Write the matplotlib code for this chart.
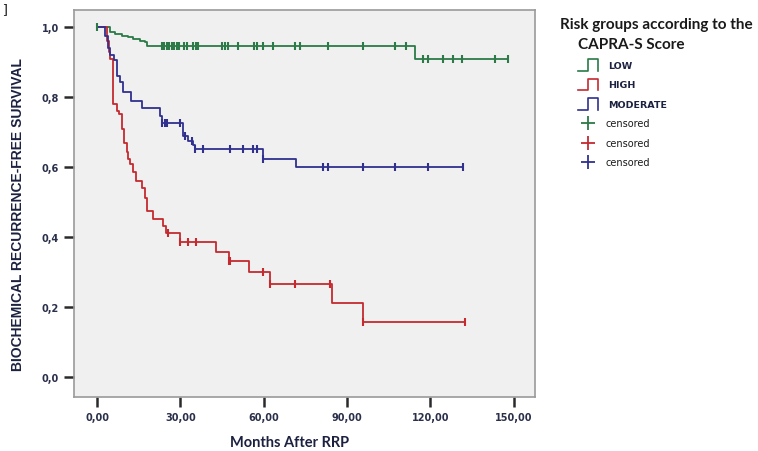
import numpy as np
import matplotlib
matplotlib.use('Agg')
import matplotlib.pyplot as plt

# Kaplan-Meier curves (months, survival after the step)
low_t = [4.7, 6.5, 8.9, 11.3, 13.1, 15.5, 17.3, 18.0, 114.5]
low_s = [0.986, 0.981, 0.976, 0.971, 0.966, 0.961, 0.957, 0.945, 0.908]
low_end = 148.0
low_cens = [0, 23.3, 24.1, 25.1, 26.0, 26.9, 27.7, 28.7, 29.6, 31.4, 32.3, 34.7,
            35.6, 36.5, 44.9, 46.1, 47.3, 50.9, 56.5, 57.5, 59.6, 63.5, 71.3,
            73.0, 83.2, 95.6, 107.3, 111.2, 117.5, 119.3, 124.4, 128.3, 131.3,
            143.3, 148.0]

high_t = [3.6, 4.2, 4.8, 5.9, 7.3, 8.0, 8.9, 9.7, 10.7, 11.3, 11.7, 12.9, 14.0,
          16.1, 17.3, 17.9, 20.0, 23.9, 24.8, 29.9, 42.8, 47.6, 54.8, 62.3,
          84.5, 95.6]
high_s = [0.96, 0.93, 0.91, 0.78, 0.761, 0.751, 0.709, 0.67, 0.642, 0.623,
          0.609, 0.585, 0.561, 0.539, 0.513, 0.475, 0.453, 0.432, 0.413, 0.387,
          0.358, 0.332, 0.301, 0.266, 0.213, 0.158]
high_end = 132.5
high_cens = [25.5, 29.9, 32.6, 35.6, 47.6, 48.0, 59.9, 62.3, 71.3, 83.9, 95.6,
             132.5]

mod_t = [2.9, 4.1, 4.7, 6.1, 7.1, 8.3, 9.2, 12.1, 16.1, 22.6, 23.3, 31.1, 32.9,
         34.7, 35.3, 59.6, 71.6]
mod_s = [0.975, 0.94, 0.92, 0.905, 0.861, 0.842, 0.815, 0.79, 0.768, 0.745,
         0.726, 0.69, 0.675, 0.663, 0.651, 0.623, 0.60]
mod_end = 131.8
mod_cens = [23.3, 24.3, 25.3, 29.9, 31.5, 34.1, 35.3, 38.3, 47.9, 52.7, 56.3,
            57.5, 59.8, 81.5, 83.3, 95.6, 107.3, 119.3, 131.8]

x_ticks = [0, 30, 60, 90, 120, 150]
y_ticks = [0.0, 0.2, 0.4, 0.6, 0.8, 1.0]
group_labels = ['LOW', 'HIGH', 'MODERATE']

C_LOW, C_HIGH, C_MOD = '#2b7a47', '#c42a30', '#30308f'
NAVY = '#1c2140'


def km(ax, t, s, end, cens, color):
    """Curva escalonada + marcas de censura."""
    xs = [0.0] + list(t) + [end]
    ys = [1.0] + list(s) + [s[-1]]
    ax.plot(xs, ys, drawstyle='steps-post', color=color, lw=1.3, zorder=3)
    levels = np.array([1.0] + list(s))
    idx = np.searchsorted(np.array(t), np.array(cens), side='right')
    ax.plot(cens, levels[idx], ls='none', marker='|', ms=6, mew=1.5,
            color=color, zorder=4)


fig = plt.figure(figsize=(7.58, 4.52), dpi=100)
ax = fig.add_axes([74/758, 54/452, 461/758, 387/452])
ax.set_facecolor('#f0f0f0')

km(ax, low_t, low_s, low_end, low_cens, C_LOW)
km(ax, high_t, high_s, high_end, high_cens, C_HIGH)
km(ax, mod_t, mod_s, mod_end, mod_cens, C_MOD)

ax.set_xlim(-8.3, 157.7)
ax.set_ylim(-0.057, 1.049)
ax.set_xticks(x_ticks)
ax.set_xticklabels([f'{v:.2f}'.replace('.', ',') for v in x_ticks])
ax.set_yticks(y_ticks)
ax.set_yticklabels([f'{v:.1f}'.replace('.', ',') for v in y_ticks])
ax.tick_params(direction='out', length=7, width=1.8, color='#2a2a2a',
               labelsize=7, labelcolor='#2a2f4a', pad=4)
for lab in ax.get_xticklabels() + ax.get_yticklabels():
    lab.set_fontweight('bold')
    lab.set_family('DejaVu Sans')
for sp in ax.spines.values():
    sp.set_color('#9a9a9a')
    sp.set_linewidth(1.2)

fig.text(18/758, 1 - 215/452, 'BIOCHEMICAL RECURRENCE-FREE SURVIVAL',
         rotation=90, ha='center', va='center', color=NAVY, fontsize=10,
         fontweight='bold', family=['Liberation Sans Narrow', 'Liberation Sans'])
fig.text(290/758, 1 - 443/452, 'Months After RRP', ha='center', va='center',
         color=NAVY, fontsize=10.5, fontweight='bold', family='Lato')
fig.text(2/758, 1 - 10/452, ']', ha='left', va='center', fontsize=9,
         family='DejaVu Serif')

# leyenda dibujada en coordenadas de pixel
lax = fig.add_axes([0, 0, 1, 1])
lax.set_xlim(0, 758)
lax.set_ylim(452, 0)
lax.axis('off')
lax.text(560, 25, 'Risk groups according to the', ha='left', va='center',
         fontsize=11, fontweight='bold', family='Lato', color='#1a1a1a')
lax.text(578, 45, 'CAPRA-S Score', ha='left', va='center',
         fontsize=11, fontweight='bold', family='Lato', color='#1a1a1a')
for i, (lab, c) in enumerate(zip(group_labels, [C_LOW, C_HIGH, C_MOD])):
    yb = 71.5 + i * 19.5
    lax.plot([578, 588, 588, 598, 598], [yb, yb, yb - 11.5, yb - 11.5, yb],
             color=c, lw=1.2)
    lax.text(608, yb - 5, lab, ha='left', va='center', fontsize=6.8,
             fontweight='bold', color=NAVY, family='DejaVu Sans')
for i, c in enumerate([C_LOW, C_HIGH, C_MOD]):
    yc = 124 + i * 19.7
    lax.plot([588], [yc], marker='+', ms=10, mew=1.3, color=c)
    lax.text(606, yc, 'censored', ha='left', va='center', fontsize=7,
             color='#1a1a1a', family='DejaVu Sans')

fig.savefig('out.png', dpi=100)
plt.close(fig)
